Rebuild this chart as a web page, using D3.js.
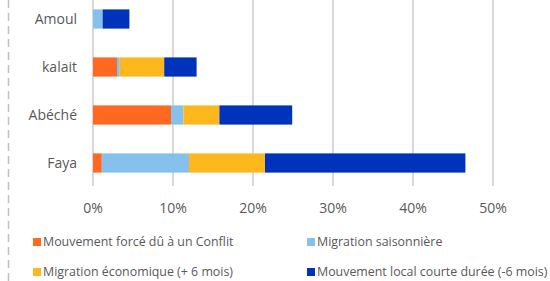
<!DOCTYPE html>
<html><head><meta charset="utf-8">
<script src="https://cdn.jsdelivr.net/npm/d3@7"></script>
<style>body{margin:0;background:#fff}svg{display:block}text{font-family:"Open Sans",sans-serif;fill:#595959}</style>
</head><body><svg id="c" width="550" height="281"></svg>
<script>
const categories = ["Amoul", "kalait", "Abéché", "Faya"];
const seriesNames = ["Mouvement forcé dû à un Conflit", "Migration saisonnière", "Migration économique (+ 6 mois)", "Mouvement local courte durée (-6 mois)"];
const conflit = [0, 3.0, 9.75, 1.1];
const saisonniere = [1.2, 0.35, 1.55, 10.9];
const economique = [0, 5.55, 4.5, 9.5];
const local = [3.35, 4.05, 9.1, 25.05];
const tickValues = [0, 10, 20, 30, 40, 50];
const colors = ["#FF6820", "#85C1EC", "#FFB71E", "#0033BB"];

const svg = d3.select("#c");
const x = d3.scaleLinear().domain([0, 50]).range([93, 493]);
const y = d3.scaleBand().domain(categories).range([-5, 187]).paddingInner(0.6).paddingOuter(0.3);

// dashed left border
svg.append("line").attr("x1", 8.5).attr("x2", 8.5).attr("y1", 0).attr("y2", 281)
  .attr("stroke", "#bfbfbf").attr("stroke-width", 1.5).attr("stroke-dasharray", "8,5");

// gridlines
svg.append("g").selectAll("line").data(tickValues).join("line")
  .attr("x1", d => x(d)).attr("x2", d => x(d)).attr("y1", 0).attr("y2", 186)
  .attr("stroke", "#d9d9d9").attr("stroke-width", 2);

const rows = categories.map((c, i) => ({cat: c, vals: [conflit[i], saisonniere[i], economique[i], local[i]]}));
const stack = d3.stack().keys([0, 1, 2, 3]).value((d, k) => d.vals[k]);
const stacked = stack(rows);
stacked.forEach((layer, k) => {
  svg.append("g").selectAll("rect").data(layer).join("rect")
    .attr("x", d => x(d[0])).attr("width", d => x(d[1]) - x(d[0]))
    .attr("y", d => y(d.data.cat)).attr("height", y.bandwidth())
    .attr("fill", colors[k]);
});

// category labels
svg.append("g").selectAll("text").data(categories).join("text")
  .attr("x", 77).attr("y", d => y(d) + y.bandwidth() / 2).attr("dy", "0.35em")
  .attr("text-anchor", "end").attr("font-size", 14).text(d => d);

// x axis tick labels
svg.append("g").selectAll("text").data(tickValues).join("text")
  .attr("x", d => x(d)).attr("y", 208).attr("dy", "0.35em")
  .attr("text-anchor", "middle").attr("font-size", 14).text(d => d + "%");

// legend
const legPos = [[33, 242], [307, 242], [33, 272], [307, 272]];
const leg = svg.append("g").selectAll("g").data(seriesNames).join("g")
  .attr("transform", (d, i) => `translate(${legPos[i][0]},${legPos[i][1]})`);
leg.append("rect").attr("x", 0).attr("y", -4).attr("width", 8).attr("height", 8).attr("fill", (d, i) => colors[i]);
leg.append("text").attr("x", 10).attr("y", 0).attr("dy", "0.35em").attr("font-size", 12.4).text(d => d);
</script></body></html>
